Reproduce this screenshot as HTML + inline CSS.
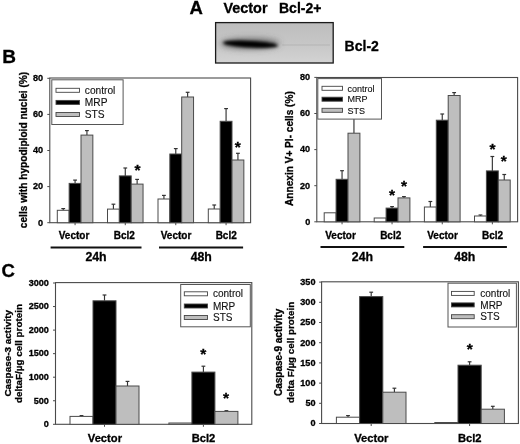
<!DOCTYPE html>
<html><head><meta charset="utf-8"><style>
html,body{margin:0;padding:0;background:#fff;width:520px;height:444px;overflow:hidden}
svg{display:block;will-change:transform;filter:blur(0.35px)}
text{font-family:"Liberation Sans", sans-serif}
text[font-weight=bold]{stroke:#000;stroke-width:0.3px}
text[font-weight=normal]{stroke:#111;stroke-width:0.12px}
</style></head><body>
<svg width="520" height="444" viewBox="0 0 520 444" font-family='"Liberation Sans", sans-serif'>
<rect width="520" height="444" fill="#fff"/>
<text x="189.6" y="14.4" font-size="18.5" font-weight="bold" text-anchor="start" fill="#000" >A</text>
<text x="223.5" y="13.2" font-size="14.4" font-weight="bold" text-anchor="start" fill="#000" >Vector</text>
<text x="279.0" y="13.2" font-size="14" font-weight="bold" text-anchor="start" fill="#000" >Bcl-2+</text>
<text x="344.6" y="50.6" font-size="14" font-weight="bold" text-anchor="start" fill="#000" >Bcl-2</text>
<defs>
<linearGradient id="blotbg" x1="0" y1="0" x2="0" y2="1">
<stop offset="0" stop-color="#bdbdbd"/><stop offset="0.5" stop-color="#c6c6c6"/><stop offset="1" stop-color="#d3d3d3"/></linearGradient>
<filter id="blur1" x="-20%" y="-100%" width="140%" height="300%"><feGaussianBlur stdDeviation="1.7"/></filter>
<filter id="blur2" x="-30%" y="-150%" width="160%" height="400%"><feGaussianBlur stdDeviation="3"/></filter>
<filter id="blur05"><feGaussianBlur stdDeviation="0.6"/></filter>
</defs>
<rect x="215.6" y="22.6" width="117.6" height="40.4" fill="url(#blotbg)" stroke="#1a1a1a" stroke-width="1.3"/>
<g filter="url(#blur2)"><ellipse cx="250" cy="43.6" rx="29.5" ry="5.2" fill="#505050" opacity="0.8"/></g>
<g filter="url(#blur1)"><ellipse cx="250.5" cy="44.2" rx="27.5" ry="3.3" fill="#000" transform="rotate(3 250.5 44.2)"/><ellipse cx="262" cy="45" rx="14" ry="2.4" fill="#000"/></g>
<g filter="url(#blur05)"><rect x="282" y="44.2" width="48" height="1.6" fill="#a0a0a0" opacity="0.35"/></g>
<text x="2.2" y="62.9" font-size="19" font-weight="bold" text-anchor="start" fill="#000" >B</text>
<rect x="49.8" y="78.0" width="200.8" height="144.7" fill="none" stroke="#4a4a4a" stroke-width="1.1"/>
<line x1="47.3" y1="222.7" x2="49.8" y2="222.7" stroke="#4a4a4a" stroke-width="1"/>
<text x="43.1" y="225.521" font-size="9.1" font-weight="bold" text-anchor="end" fill="#000" >0</text>
<line x1="47.3" y1="186.6" x2="49.8" y2="186.6" stroke="#4a4a4a" stroke-width="1"/>
<text x="43.1" y="189.421" font-size="9.1" font-weight="bold" text-anchor="end" fill="#000" >20</text>
<line x1="47.3" y1="150.5" x2="49.8" y2="150.5" stroke="#4a4a4a" stroke-width="1"/>
<text x="43.1" y="153.321" font-size="9.1" font-weight="bold" text-anchor="end" fill="#000" >40</text>
<line x1="47.3" y1="114.39999999999999" x2="49.8" y2="114.39999999999999" stroke="#4a4a4a" stroke-width="1"/>
<text x="43.1" y="117.22099999999999" font-size="9.1" font-weight="bold" text-anchor="end" fill="#000" >60</text>
<line x1="47.3" y1="78.29999999999998" x2="49.8" y2="78.29999999999998" stroke="#4a4a4a" stroke-width="1"/>
<text x="43.1" y="81.12099999999998" font-size="9.1" font-weight="bold" text-anchor="end" fill="#000" >80</text>
<line x1="63.224999999999994" y1="210.3" x2="63.224999999999994" y2="208.6" stroke="#333" stroke-width="1.15"/>
<line x1="61.324999999999996" y1="208.6" x2="65.125" y2="208.6" stroke="#333" stroke-width="1.2"/>
<rect x="57.3" y="210.3" width="11.85" height="12.399999999999977" fill="#fff" stroke="#4a4a4a" stroke-width="1"/>
<line x1="75.07499999999999" y1="183.4" x2="75.07499999999999" y2="180.1" stroke="#333" stroke-width="1.15"/>
<line x1="73.17499999999998" y1="180.1" x2="76.975" y2="180.1" stroke="#333" stroke-width="1.2"/>
<rect x="69.14999999999999" y="183.4" width="11.85" height="39.29999999999998" fill="#000" stroke="#4a4a4a" stroke-width="1"/>
<line x1="86.925" y1="135.1" x2="86.925" y2="130.6" stroke="#333" stroke-width="1.15"/>
<line x1="85.02499999999999" y1="130.6" x2="88.825" y2="130.6" stroke="#333" stroke-width="1.2"/>
<rect x="81.0" y="135.1" width="11.85" height="87.6" fill="#bebebe" stroke="#4a4a4a" stroke-width="1"/>
<line x1="75.07499999999999" y1="222.7" x2="75.07499999999999" y2="225.2" stroke="#4a4a4a" stroke-width="1"/>
<line x1="113.425" y1="209.1" x2="113.425" y2="204.2" stroke="#333" stroke-width="1.15"/>
<line x1="111.52499999999999" y1="204.2" x2="115.325" y2="204.2" stroke="#333" stroke-width="1.2"/>
<rect x="107.5" y="209.1" width="11.85" height="13.599999999999994" fill="#fff" stroke="#4a4a4a" stroke-width="1"/>
<line x1="125.27499999999999" y1="175.9" x2="125.27499999999999" y2="168.0" stroke="#333" stroke-width="1.15"/>
<line x1="123.37499999999999" y1="168.0" x2="127.175" y2="168.0" stroke="#333" stroke-width="1.2"/>
<rect x="119.35" y="175.9" width="11.85" height="46.79999999999998" fill="#000" stroke="#4a4a4a" stroke-width="1"/>
<line x1="137.125" y1="184.1" x2="137.125" y2="179.4" stroke="#333" stroke-width="1.15"/>
<line x1="135.225" y1="179.4" x2="139.025" y2="179.4" stroke="#333" stroke-width="1.2"/>
<rect x="131.2" y="184.1" width="11.85" height="38.599999999999994" fill="#bebebe" stroke="#4a4a4a" stroke-width="1"/>
<line x1="125.275" y1="222.7" x2="125.275" y2="225.2" stroke="#4a4a4a" stroke-width="1"/>
<line x1="163.925" y1="199.0" x2="163.925" y2="195.4" stroke="#333" stroke-width="1.15"/>
<line x1="162.025" y1="195.4" x2="165.82500000000002" y2="195.4" stroke="#333" stroke-width="1.2"/>
<rect x="158.0" y="199.0" width="11.85" height="23.69999999999999" fill="#fff" stroke="#4a4a4a" stroke-width="1"/>
<line x1="175.775" y1="154.0" x2="175.775" y2="148.6" stroke="#333" stroke-width="1.15"/>
<line x1="173.875" y1="148.6" x2="177.675" y2="148.6" stroke="#333" stroke-width="1.2"/>
<rect x="169.85" y="154.0" width="11.85" height="68.69999999999999" fill="#000" stroke="#4a4a4a" stroke-width="1"/>
<line x1="187.625" y1="97.0" x2="187.625" y2="92.3" stroke="#333" stroke-width="1.15"/>
<line x1="185.725" y1="92.3" x2="189.525" y2="92.3" stroke="#333" stroke-width="1.2"/>
<rect x="181.7" y="97.0" width="11.85" height="125.69999999999999" fill="#bebebe" stroke="#4a4a4a" stroke-width="1"/>
<line x1="175.775" y1="222.7" x2="175.775" y2="225.2" stroke="#4a4a4a" stroke-width="1"/>
<line x1="214.22500000000002" y1="209.0" x2="214.22500000000002" y2="205.0" stroke="#333" stroke-width="1.15"/>
<line x1="212.32500000000002" y1="205.0" x2="216.12500000000003" y2="205.0" stroke="#333" stroke-width="1.2"/>
<rect x="208.3" y="209.0" width="11.85" height="13.699999999999989" fill="#fff" stroke="#4a4a4a" stroke-width="1"/>
<line x1="226.07500000000002" y1="121.3" x2="226.07500000000002" y2="108.6" stroke="#333" stroke-width="1.15"/>
<line x1="224.175" y1="108.6" x2="227.97500000000002" y2="108.6" stroke="#333" stroke-width="1.2"/>
<rect x="220.15" y="121.3" width="11.85" height="101.39999999999999" fill="#000" stroke="#4a4a4a" stroke-width="1"/>
<line x1="237.925" y1="160.0" x2="237.925" y2="153.3" stroke="#333" stroke-width="1.15"/>
<line x1="236.025" y1="153.3" x2="239.82500000000002" y2="153.3" stroke="#333" stroke-width="1.2"/>
<rect x="232.0" y="160.0" width="11.85" height="62.69999999999999" fill="#bebebe" stroke="#4a4a4a" stroke-width="1"/>
<line x1="226.07500000000002" y1="222.7" x2="226.07500000000002" y2="225.2" stroke="#4a4a4a" stroke-width="1"/>
<rect x="51.8" y="79.8" width="71.3" height="44.7" fill="#fff" stroke="#555" stroke-width="1"/>
<rect x="56" y="88.3" width="23.5" height="4" fill="#fff" stroke="#444" stroke-width="0.9"/>
<text x="84.8" y="93.972" font-size="10.2" font-weight="normal" text-anchor="start" fill="#111" >control</text>
<rect x="56" y="100.4" width="23.5" height="4" fill="#000" stroke="#444" stroke-width="0.9"/>
<text x="84.8" y="106.072" font-size="10.2" font-weight="normal" text-anchor="start" fill="#111" >MRP</text>
<rect x="56" y="112.5" width="23.5" height="4" fill="#bebebe" stroke="#444" stroke-width="0.9"/>
<text x="84.8" y="118.172" font-size="10.2" font-weight="normal" text-anchor="start" fill="#111" >STS</text>
<text x="137.5" y="175.49" font-size="15.5" font-weight="bold" text-anchor="middle">*</text>
<text x="237.8" y="152.09" font-size="15.5" font-weight="bold" text-anchor="middle">*</text>
<text x="0" y="0" font-size="10.15" font-weight="bold" text-anchor="middle" transform="translate(26.8,150.0) rotate(-90)">cells with hypodiploid nuclei (%)</text>
<text x="74" y="239.3" font-size="10" font-weight="bold" text-anchor="middle" fill="#000" >Vector</text>
<text x="124.3" y="239.3" font-size="10" font-weight="bold" text-anchor="middle" fill="#000" >Bcl2</text>
<text x="176" y="239.3" font-size="10" font-weight="bold" text-anchor="middle" fill="#000" >Vector</text>
<text x="226.2" y="239.3" font-size="10" font-weight="bold" text-anchor="middle" fill="#000" >Bcl2</text>
<line x1="50.6" y1="247.5" x2="141.5" y2="247.5" stroke="#111" stroke-width="1.8"/>
<line x1="159.0" y1="247.5" x2="243.1" y2="247.5" stroke="#111" stroke-width="1.8"/>
<text x="96" y="261.1" font-size="12.3" font-weight="bold" text-anchor="middle" fill="#000" >24h</text>
<text x="201.3" y="261.1" font-size="12.3" font-weight="bold" text-anchor="middle" fill="#000" >48h</text>
<rect x="316.8" y="77.5" width="200.8" height="144.3" fill="none" stroke="#4a4a4a" stroke-width="1.1"/>
<line x1="314.3" y1="221.8" x2="316.8" y2="221.8" stroke="#4a4a4a" stroke-width="1"/>
<text x="310.2" y="224.621" font-size="9.1" font-weight="bold" text-anchor="end" fill="#000" >0</text>
<line x1="314.3" y1="185.70000000000002" x2="316.8" y2="185.70000000000002" stroke="#4a4a4a" stroke-width="1"/>
<text x="310.2" y="188.52100000000002" font-size="9.1" font-weight="bold" text-anchor="end" fill="#000" >20</text>
<line x1="314.3" y1="149.60000000000002" x2="316.8" y2="149.60000000000002" stroke="#4a4a4a" stroke-width="1"/>
<text x="310.2" y="152.42100000000002" font-size="9.1" font-weight="bold" text-anchor="end" fill="#000" >40</text>
<line x1="314.3" y1="113.50000000000001" x2="316.8" y2="113.50000000000001" stroke="#4a4a4a" stroke-width="1"/>
<text x="310.2" y="116.32100000000001" font-size="9.1" font-weight="bold" text-anchor="end" fill="#000" >60</text>
<line x1="314.3" y1="77.4" x2="316.8" y2="77.4" stroke="#4a4a4a" stroke-width="1"/>
<text x="310.2" y="80.221" font-size="9.1" font-weight="bold" text-anchor="end" fill="#000" >80</text>
<rect x="324.2" y="212.8" width="11.9" height="9.0" fill="#fff" stroke="#4a4a4a" stroke-width="1"/>
<line x1="342.04999999999995" y1="179.3" x2="342.04999999999995" y2="170.7" stroke="#333" stroke-width="1.15"/>
<line x1="340.15" y1="170.7" x2="343.94999999999993" y2="170.7" stroke="#333" stroke-width="1.2"/>
<rect x="336.09999999999997" y="179.3" width="11.9" height="42.5" fill="#000" stroke="#4a4a4a" stroke-width="1"/>
<line x1="353.95" y1="133.2" x2="353.95" y2="112.0" stroke="#333" stroke-width="1.15"/>
<line x1="352.05" y1="112.0" x2="355.84999999999997" y2="112.0" stroke="#333" stroke-width="1.2"/>
<rect x="348.0" y="133.2" width="11.9" height="88.60000000000002" fill="#bebebe" stroke="#4a4a4a" stroke-width="1"/>
<line x1="342.05" y1="221.8" x2="342.05" y2="224.3" stroke="#4a4a4a" stroke-width="1"/>
<rect x="374.2" y="218.0" width="11.9" height="3.8000000000000114" fill="#fff" stroke="#4a4a4a" stroke-width="1"/>
<line x1="392.04999999999995" y1="208.1" x2="392.04999999999995" y2="206.6" stroke="#333" stroke-width="1.15"/>
<line x1="390.15" y1="206.6" x2="393.94999999999993" y2="206.6" stroke="#333" stroke-width="1.2"/>
<rect x="386.09999999999997" y="208.1" width="11.9" height="13.700000000000017" fill="#000" stroke="#4a4a4a" stroke-width="1"/>
<line x1="403.95" y1="197.9" x2="403.95" y2="196.6" stroke="#333" stroke-width="1.15"/>
<line x1="402.05" y1="196.6" x2="405.84999999999997" y2="196.6" stroke="#333" stroke-width="1.2"/>
<rect x="398.0" y="197.9" width="11.9" height="23.900000000000006" fill="#bebebe" stroke="#4a4a4a" stroke-width="1"/>
<line x1="392.05" y1="221.8" x2="392.05" y2="224.3" stroke="#4a4a4a" stroke-width="1"/>
<line x1="430.34999999999997" y1="207.0" x2="430.34999999999997" y2="201.5" stroke="#333" stroke-width="1.15"/>
<line x1="428.45" y1="201.5" x2="432.24999999999994" y2="201.5" stroke="#333" stroke-width="1.2"/>
<rect x="424.4" y="207.0" width="11.9" height="14.800000000000011" fill="#fff" stroke="#4a4a4a" stroke-width="1"/>
<line x1="442.24999999999994" y1="120.2" x2="442.24999999999994" y2="114.0" stroke="#333" stroke-width="1.15"/>
<line x1="440.34999999999997" y1="114.0" x2="444.1499999999999" y2="114.0" stroke="#333" stroke-width="1.2"/>
<rect x="436.29999999999995" y="120.2" width="11.9" height="101.60000000000001" fill="#000" stroke="#4a4a4a" stroke-width="1"/>
<line x1="454.15" y1="95.5" x2="454.15" y2="92.6" stroke="#333" stroke-width="1.15"/>
<line x1="452.25" y1="92.6" x2="456.04999999999995" y2="92.6" stroke="#333" stroke-width="1.2"/>
<rect x="448.2" y="95.5" width="11.9" height="126.30000000000001" fill="#bebebe" stroke="#4a4a4a" stroke-width="1"/>
<line x1="442.25" y1="221.8" x2="442.25" y2="224.3" stroke="#4a4a4a" stroke-width="1"/>
<line x1="480.45" y1="216.0" x2="480.45" y2="215.0" stroke="#333" stroke-width="1.15"/>
<line x1="478.55" y1="215.0" x2="482.34999999999997" y2="215.0" stroke="#333" stroke-width="1.2"/>
<rect x="474.5" y="216.0" width="11.9" height="5.800000000000011" fill="#fff" stroke="#4a4a4a" stroke-width="1"/>
<line x1="492.34999999999997" y1="170.9" x2="492.34999999999997" y2="156.5" stroke="#333" stroke-width="1.15"/>
<line x1="490.45" y1="156.5" x2="494.24999999999994" y2="156.5" stroke="#333" stroke-width="1.2"/>
<rect x="486.4" y="170.9" width="11.9" height="50.900000000000006" fill="#000" stroke="#4a4a4a" stroke-width="1"/>
<line x1="504.25" y1="180.0" x2="504.25" y2="174.5" stroke="#333" stroke-width="1.15"/>
<line x1="502.35" y1="174.5" x2="506.15" y2="174.5" stroke="#333" stroke-width="1.2"/>
<rect x="498.3" y="180.0" width="11.9" height="41.80000000000001" fill="#bebebe" stroke="#4a4a4a" stroke-width="1"/>
<line x1="492.35" y1="221.8" x2="492.35" y2="224.3" stroke="#4a4a4a" stroke-width="1"/>
<rect x="317.8" y="78.6" width="63.69999999999999" height="40.5" fill="#fff" stroke="#555" stroke-width="1"/>
<rect x="322" y="86.3" width="20.5" height="4" fill="#fff" stroke="#444" stroke-width="0.9"/>
<text x="347.6" y="91.53999999999999" font-size="9.0" font-weight="normal" text-anchor="start" fill="#111" >control</text>
<rect x="322" y="97.2" width="20.5" height="4" fill="#000" stroke="#444" stroke-width="0.9"/>
<text x="347.6" y="102.44" font-size="9.0" font-weight="normal" text-anchor="start" fill="#111" >MRP</text>
<rect x="322" y="108.3" width="20.5" height="4" fill="#bebebe" stroke="#444" stroke-width="0.9"/>
<text x="347.6" y="113.53999999999999" font-size="9.0" font-weight="normal" text-anchor="start" fill="#111" >STS</text>
<text x="392.0" y="199.79" font-size="15.5" font-weight="bold" text-anchor="middle">*</text>
<text x="404.1" y="190.89" font-size="15.5" font-weight="bold" text-anchor="middle">*</text>
<text x="492.5" y="153.99" font-size="15.5" font-weight="bold" text-anchor="middle">*</text>
<text x="503.7" y="166.19" font-size="15.5" font-weight="bold" text-anchor="middle">*</text>
<text x="0" y="0" font-size="10.1" font-weight="bold" text-anchor="middle" transform="translate(293.0,148.6) rotate(-90)">Annexin V+ PI- cells (%)</text>
<text x="340.5" y="239.3" font-size="10" font-weight="bold" text-anchor="middle" fill="#000" >Vector</text>
<text x="390.7" y="239.3" font-size="10" font-weight="bold" text-anchor="middle" fill="#000" >Bcl2</text>
<text x="442.5" y="239.3" font-size="10" font-weight="bold" text-anchor="middle" fill="#000" >Vector</text>
<text x="492.5" y="239.3" font-size="10" font-weight="bold" text-anchor="middle" fill="#000" >Bcl2</text>
<line x1="320.5" y1="247.0" x2="404.3" y2="247.0" stroke="#111" stroke-width="1.9"/>
<line x1="423.1" y1="247.0" x2="506.9" y2="247.0" stroke="#111" stroke-width="1.9"/>
<text x="362.4" y="261.1" font-size="12.3" font-weight="bold" text-anchor="middle" fill="#000" >24h</text>
<text x="464.8" y="261.1" font-size="12.3" font-weight="bold" text-anchor="middle" fill="#000" >48h</text>
<text x="1.6" y="276.6" font-size="18.5" font-weight="bold" text-anchor="start" fill="#000" >C</text>
<rect x="55.5" y="282.6" width="196.3" height="141.7" fill="none" stroke="#4a4a4a" stroke-width="1.1"/>
<line x1="53.0" y1="424.3" x2="55.5" y2="424.3" stroke="#4a4a4a" stroke-width="1"/>
<text x="48.9" y="427.12100000000004" font-size="9.1" font-weight="bold" text-anchor="end" fill="#000" >0</text>
<line x1="53.0" y1="400.75" x2="55.5" y2="400.75" stroke="#4a4a4a" stroke-width="1"/>
<text x="48.9" y="403.571" font-size="9.1" font-weight="bold" text-anchor="end" fill="#000" >500</text>
<line x1="53.0" y1="377.2" x2="55.5" y2="377.2" stroke="#4a4a4a" stroke-width="1"/>
<text x="48.9" y="380.021" font-size="9.1" font-weight="bold" text-anchor="end" fill="#000" >1000</text>
<line x1="53.0" y1="353.65" x2="55.5" y2="353.65" stroke="#4a4a4a" stroke-width="1"/>
<text x="48.9" y="356.471" font-size="9.1" font-weight="bold" text-anchor="end" fill="#000" >1500</text>
<line x1="53.0" y1="330.1" x2="55.5" y2="330.1" stroke="#4a4a4a" stroke-width="1"/>
<text x="48.9" y="332.92100000000005" font-size="9.1" font-weight="bold" text-anchor="end" fill="#000" >2000</text>
<line x1="53.0" y1="306.55" x2="55.5" y2="306.55" stroke="#4a4a4a" stroke-width="1"/>
<text x="48.9" y="309.37100000000004" font-size="9.1" font-weight="bold" text-anchor="end" fill="#000" >2500</text>
<line x1="53.0" y1="283.0" x2="55.5" y2="283.0" stroke="#4a4a4a" stroke-width="1"/>
<text x="48.9" y="285.821" font-size="9.1" font-weight="bold" text-anchor="end" fill="#000" >3000</text>
<line x1="81.5" y1="416.4" x2="81.5" y2="415.6" stroke="#333" stroke-width="1.15"/>
<line x1="79.6" y1="415.6" x2="83.4" y2="415.6" stroke="#333" stroke-width="1.2"/>
<rect x="70.0" y="416.4" width="23.0" height="7.900000000000034" fill="#fff" stroke="#4a4a4a" stroke-width="1"/>
<line x1="104.5" y1="300.8" x2="104.5" y2="295.0" stroke="#333" stroke-width="1.15"/>
<line x1="102.6" y1="295.0" x2="106.4" y2="295.0" stroke="#333" stroke-width="1.2"/>
<rect x="93.0" y="300.8" width="23.0" height="123.5" fill="#000" stroke="#4a4a4a" stroke-width="1"/>
<line x1="127.5" y1="386.0" x2="127.5" y2="381.4" stroke="#333" stroke-width="1.15"/>
<line x1="125.6" y1="381.4" x2="129.4" y2="381.4" stroke="#333" stroke-width="1.2"/>
<rect x="116.0" y="386.0" width="23.0" height="38.30000000000001" fill="#bebebe" stroke="#4a4a4a" stroke-width="1"/>
<line x1="104.5" y1="424.3" x2="104.5" y2="426.8" stroke="#4a4a4a" stroke-width="1"/>
<rect x="168.9" y="423.0" width="23.0" height="1.3000000000000114" fill="#fff" stroke="#4a4a4a" stroke-width="1"/>
<line x1="203.4" y1="372.1" x2="203.4" y2="366.2" stroke="#333" stroke-width="1.15"/>
<line x1="201.5" y1="366.2" x2="205.3" y2="366.2" stroke="#333" stroke-width="1.2"/>
<rect x="191.9" y="372.1" width="23.0" height="52.19999999999999" fill="#000" stroke="#4a4a4a" stroke-width="1"/>
<line x1="226.4" y1="411.4" x2="226.4" y2="410.7" stroke="#333" stroke-width="1.15"/>
<line x1="224.5" y1="410.7" x2="228.3" y2="410.7" stroke="#333" stroke-width="1.2"/>
<rect x="214.9" y="411.4" width="23.0" height="12.900000000000034" fill="#bebebe" stroke="#4a4a4a" stroke-width="1"/>
<line x1="203.4" y1="424.3" x2="203.4" y2="426.8" stroke="#4a4a4a" stroke-width="1"/>
<rect x="180.7" y="284.5" width="69.60000000000002" height="42.30000000000001" fill="#fff" stroke="#555" stroke-width="1"/>
<rect x="184.3" y="291.8" width="23.19999999999999" height="4" fill="#fff" stroke="#444" stroke-width="0.9"/>
<text x="213.0" y="297.40000000000003" font-size="10.0" font-weight="normal" text-anchor="start" fill="#111" >control</text>
<rect x="184.3" y="304.0" width="23.19999999999999" height="4" fill="#000" stroke="#444" stroke-width="0.9"/>
<text x="213.0" y="309.6" font-size="10.0" font-weight="normal" text-anchor="start" fill="#111" >MRP</text>
<rect x="184.3" y="315.5" width="23.19999999999999" height="4" fill="#bebebe" stroke="#444" stroke-width="0.9"/>
<text x="213.0" y="321.1" font-size="10.0" font-weight="normal" text-anchor="start" fill="#111" >STS</text>
<text x="203.3" y="359.19" font-size="15.5" font-weight="bold" text-anchor="middle">*</text>
<text x="226.1" y="403.19" font-size="15.5" font-weight="bold" text-anchor="middle">*</text>
<g>
<text x="0" y="0" font-size="9.93" font-weight="bold" text-anchor="middle" transform="translate(11.3,353.3) rotate(-90)">Caspase-3 activity</text>
<text x="0" y="0" font-size="9.9" font-weight="bold" text-anchor="middle" transform="translate(22.4,353.5) rotate(-90)">deltaF/&#181;g cell protein</text>
</g>
<text x="104.9" y="442.2" font-size="11.2" font-weight="bold" text-anchor="middle" fill="#000" >Vector</text>
<text x="203.5" y="442.2" font-size="11.2" font-weight="bold" text-anchor="middle" fill="#000" >Bcl2</text>
<rect x="321.6" y="281.8" width="196.79999999999995" height="141.7" fill="none" stroke="#4a4a4a" stroke-width="1.1"/>
<line x1="319.1" y1="423.5" x2="321.6" y2="423.5" stroke="#4a4a4a" stroke-width="1"/>
<text x="315.5" y="426.321" font-size="9.1" font-weight="bold" text-anchor="end" fill="#000" >0</text>
<line x1="319.1" y1="403.3" x2="321.6" y2="403.3" stroke="#4a4a4a" stroke-width="1"/>
<text x="315.5" y="406.12100000000004" font-size="9.1" font-weight="bold" text-anchor="end" fill="#000" >50</text>
<line x1="319.1" y1="383.1" x2="321.6" y2="383.1" stroke="#4a4a4a" stroke-width="1"/>
<text x="315.5" y="385.92100000000005" font-size="9.1" font-weight="bold" text-anchor="end" fill="#000" >100</text>
<line x1="319.1" y1="362.9" x2="321.6" y2="362.9" stroke="#4a4a4a" stroke-width="1"/>
<text x="315.5" y="365.721" font-size="9.1" font-weight="bold" text-anchor="end" fill="#000" >150</text>
<line x1="319.1" y1="342.7" x2="321.6" y2="342.7" stroke="#4a4a4a" stroke-width="1"/>
<text x="315.5" y="345.521" font-size="9.1" font-weight="bold" text-anchor="end" fill="#000" >200</text>
<line x1="319.1" y1="322.5" x2="321.6" y2="322.5" stroke="#4a4a4a" stroke-width="1"/>
<text x="315.5" y="325.321" font-size="9.1" font-weight="bold" text-anchor="end" fill="#000" >250</text>
<line x1="319.1" y1="302.3" x2="321.6" y2="302.3" stroke="#4a4a4a" stroke-width="1"/>
<text x="315.5" y="305.12100000000004" font-size="9.1" font-weight="bold" text-anchor="end" fill="#000" >300</text>
<line x1="319.1" y1="282.1" x2="321.6" y2="282.1" stroke="#4a4a4a" stroke-width="1"/>
<text x="315.5" y="284.92100000000005" font-size="9.1" font-weight="bold" text-anchor="end" fill="#000" >350</text>
<line x1="348.0" y1="417.2" x2="348.0" y2="415.6" stroke="#333" stroke-width="1.15"/>
<line x1="346.1" y1="415.6" x2="349.9" y2="415.6" stroke="#333" stroke-width="1.2"/>
<rect x="336.4" y="417.2" width="23.2" height="6.300000000000011" fill="#fff" stroke="#4a4a4a" stroke-width="1"/>
<line x1="371.2" y1="296.6" x2="371.2" y2="292.2" stroke="#333" stroke-width="1.15"/>
<line x1="369.3" y1="292.2" x2="373.09999999999997" y2="292.2" stroke="#333" stroke-width="1.2"/>
<rect x="359.59999999999997" y="296.6" width="23.2" height="126.89999999999998" fill="#000" stroke="#4a4a4a" stroke-width="1"/>
<line x1="394.4" y1="392.2" x2="394.4" y2="388.2" stroke="#333" stroke-width="1.15"/>
<line x1="392.5" y1="388.2" x2="396.29999999999995" y2="388.2" stroke="#333" stroke-width="1.2"/>
<rect x="382.79999999999995" y="392.2" width="23.2" height="31.30000000000001" fill="#bebebe" stroke="#4a4a4a" stroke-width="1"/>
<line x1="371.2" y1="423.5" x2="371.2" y2="426.0" stroke="#4a4a4a" stroke-width="1"/>
<rect x="434.8" y="422.5" width="23.2" height="1.0" fill="#fff" stroke="#4a4a4a" stroke-width="1"/>
<line x1="469.6" y1="365.2" x2="469.6" y2="361.8" stroke="#333" stroke-width="1.15"/>
<line x1="467.70000000000005" y1="361.8" x2="471.5" y2="361.8" stroke="#333" stroke-width="1.2"/>
<rect x="458.0" y="365.2" width="23.2" height="58.30000000000001" fill="#000" stroke="#4a4a4a" stroke-width="1"/>
<line x1="492.8" y1="409.2" x2="492.8" y2="406.3" stroke="#333" stroke-width="1.15"/>
<line x1="490.90000000000003" y1="406.3" x2="494.7" y2="406.3" stroke="#333" stroke-width="1.2"/>
<rect x="481.2" y="409.2" width="23.2" height="14.300000000000011" fill="#bebebe" stroke="#4a4a4a" stroke-width="1"/>
<line x1="469.6" y1="423.5" x2="469.6" y2="426.0" stroke="#4a4a4a" stroke-width="1"/>
<rect x="448.0" y="283.2" width="68.39999999999998" height="43.80000000000001" fill="#fff" stroke="#555" stroke-width="1"/>
<rect x="451.5" y="291.4" width="22.69999999999999" height="4" fill="#fff" stroke="#444" stroke-width="0.9"/>
<text x="480.3" y="297.0" font-size="10.0" font-weight="normal" text-anchor="start" fill="#111" >control</text>
<rect x="451.5" y="302.9" width="22.69999999999999" height="4" fill="#000" stroke="#444" stroke-width="0.9"/>
<text x="480.3" y="308.5" font-size="10.0" font-weight="normal" text-anchor="start" fill="#111" >MRP</text>
<rect x="451.5" y="314.7" width="22.69999999999999" height="4" fill="#bebebe" stroke="#444" stroke-width="0.9"/>
<text x="480.3" y="320.3" font-size="10.0" font-weight="normal" text-anchor="start" fill="#111" >STS</text>
<text x="469.7" y="353.99" font-size="15.5" font-weight="bold" text-anchor="middle">*</text>
<text x="0" y="0" font-size="10.0" font-weight="bold" text-anchor="middle" transform="translate(282.4,352.4) rotate(-90)">Caspase-9 activity</text>
<text x="0" y="0" font-size="9.83" font-weight="bold" text-anchor="middle" transform="translate(293.5,352.4) rotate(-90)">delta F/&#181;g cell protein</text>
<text x="371.3" y="442.2" font-size="11.2" font-weight="bold" text-anchor="middle" fill="#000" >Vector</text>
<text x="469.7" y="442.2" font-size="11.2" font-weight="bold" text-anchor="middle" fill="#000" >Bcl2</text>
</svg></body></html>
